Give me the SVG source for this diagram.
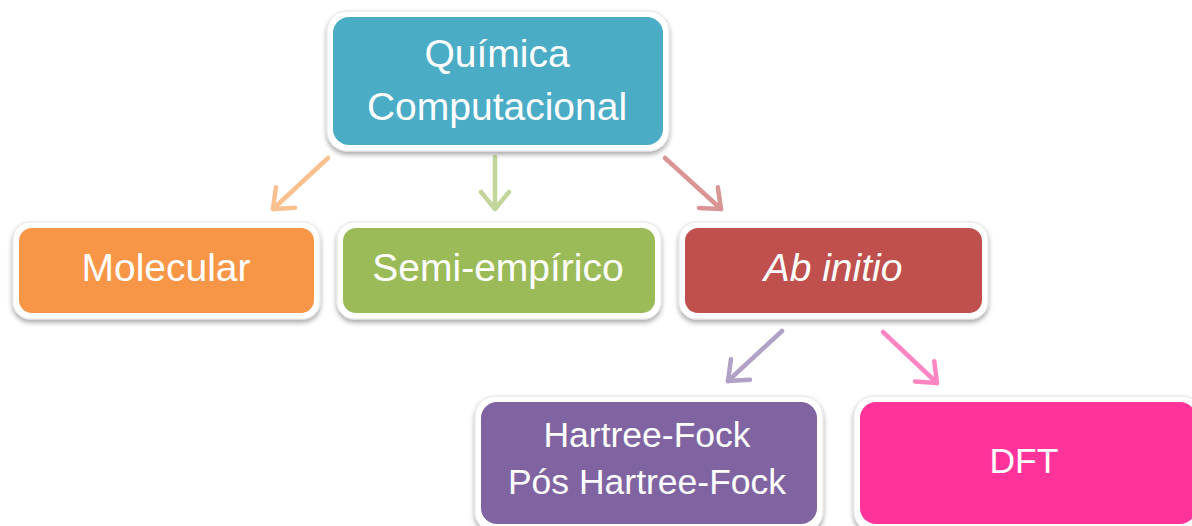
<svg xmlns="http://www.w3.org/2000/svg" width="1192" height="526" viewBox="0 0 1192 526">
<defs>
<filter id="sh" x="-10%" y="-10%" width="120%" height="130%">
<feDropShadow dx="0" dy="3" stdDeviation="2.5" flood-color="#000" flood-opacity="0.35"/>
</filter>
<marker id="mO" markerUnits="userSpaceOnUse" markerWidth="30" markerHeight="40" refX="0" refY="0" viewBox="-22 -20 30 40" orient="auto"><path d="M-17,-14 L0,0 L-17,14" fill="none" stroke="#FAC08F" stroke-width="4.5" stroke-linecap="round" stroke-linejoin="round"/></marker>
<marker id="mG" markerUnits="userSpaceOnUse" markerWidth="30" markerHeight="40" refX="0" refY="0" viewBox="-22 -20 30 40" orient="auto"><path d="M-17,-14 L0,0 L-17,14" fill="none" stroke="#C3D69B" stroke-width="4.5" stroke-linecap="round" stroke-linejoin="round"/></marker>
<marker id="mR" markerUnits="userSpaceOnUse" markerWidth="30" markerHeight="40" refX="0" refY="0" viewBox="-22 -20 30 40" orient="auto"><path d="M-17,-14 L0,0 L-17,14" fill="none" stroke="#D99594" stroke-width="4.5" stroke-linecap="round" stroke-linejoin="round"/></marker>
<marker id="mP" markerUnits="userSpaceOnUse" markerWidth="30" markerHeight="40" refX="0" refY="0" viewBox="-22 -20 30 40" orient="auto"><path d="M-17,-14 L0,0 L-17,14" fill="none" stroke="#B2A1C7" stroke-width="4.5" stroke-linecap="round" stroke-linejoin="round"/></marker>
<marker id="mK" markerUnits="userSpaceOnUse" markerWidth="30" markerHeight="40" refX="0" refY="0" viewBox="-22 -20 30 40" orient="auto"><path d="M-17,-14 L0,0 L-17,14" fill="none" stroke="#FF85C2" stroke-width="4.5" stroke-linecap="round" stroke-linejoin="round"/></marker>
</defs>
<style>
.out{fill:#fff;stroke:#e4e4e4;stroke-width:1;filter:url(#sh)}
.t{font-family:"Liberation Sans",Arial,sans-serif;fill:#fff;text-anchor:middle}
.big{font-size:39px}
.sm{font-size:35.5px}
.c{fill:none;stroke-width:4.5;stroke-linecap:round}
</style>
<rect width="1192" height="526" fill="#fff"/>
<g id="connectors">
<line class="c" x1="328" y1="158" x2="273" y2="209" stroke="#FAC08F" marker-end="url(#mO)"/>
<line class="c" x1="495" y1="157" x2="495" y2="209" stroke="#C3D69B" marker-end="url(#mG)"/>
<line class="c" x1="665" y1="158" x2="721" y2="209" stroke="#D99594" marker-end="url(#mR)"/>
<line class="c" x1="782" y1="331" x2="728" y2="381" stroke="#B2A1C7" marker-end="url(#mP)"/>
<line class="c" x1="883" y1="332" x2="937" y2="383" stroke="#FF85C2" marker-end="url(#mK)"/>
</g>
<g id="quimica">
<rect class="out" x="327" y="11" width="342" height="140" rx="20"/>
<rect x="333" y="17" width="330" height="128" rx="16" fill="#4BACC6"/>
<text class="t big" x="497" y="67">Química</text>
<text class="t big" x="497" y="120">Computacional</text>
</g>
<g id="molecular">
<rect class="out" x="13" y="222" width="307" height="97" rx="17"/>
<rect x="19" y="228" width="295" height="85" rx="13" fill="#F79646"/>
<text class="t big" x="166" y="281">Molecular</text>
</g>
<g id="semi">
<rect class="out" x="337" y="222" width="324" height="97" rx="17"/>
<rect x="343" y="228" width="312" height="85" rx="13" fill="#9BBB59"/>
<text class="t big" x="498" y="281">Semi-empírico</text>
</g>
<g id="abinitio">
<rect class="out" x="679" y="222" width="309" height="97" rx="17"/>
<rect x="685" y="228" width="297" height="85" rx="13" fill="#C0504D"/>
<text class="t big" x="833" y="281" font-style="italic">Ab initio</text>
</g>
<g id="hartree">
<rect class="out" x="475" y="396" width="348" height="136" rx="20"/>
<rect x="481" y="402" width="336" height="122" rx="16" fill="#8064A2"/>
<text class="t sm" x="647" y="447">Hartree-Fock</text>
<text class="t sm" x="647" y="494">Pós Hartree-Fock</text>
</g>
<g id="dft">
<rect class="out" x="854" y="396" width="348" height="136" rx="20"/>
<rect x="860" y="402" width="336" height="122" rx="16" fill="#FF3399"/>
<text class="t sm" x="1024" y="473">DFT</text>
</g>
</svg>
